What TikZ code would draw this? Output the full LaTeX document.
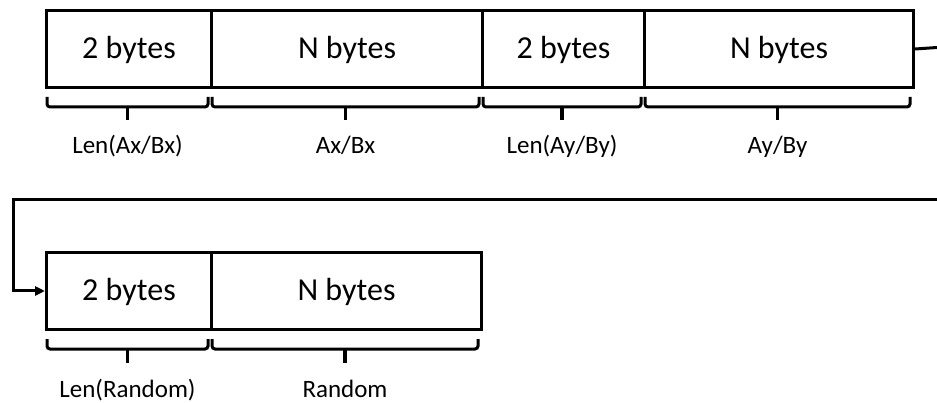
\documentclass[tikz,border=0pt]{standalone}
\usepackage{fontspec}
\setmainfont{Carlito}
\usetikzlibrary{arrows.meta}
\begin{document}
\begin{tikzpicture}[x=1pt,y=-1pt,
  field/.style={draw=black, line width=3pt, minimum height=77pt, inner sep=0pt, anchor=north west, text height=20pt, text depth=0pt, font=\fontsize{32}{36}\selectfont},
  lab/.style={inner sep=0pt, anchor=base, font=\fontsize{25}{30}\selectfont},
  brk/.style={line width=3pt, rounded corners=3pt},
  tick/.style={line width=3.4pt},
  conn/.style={line width=3pt}]
\useasboundingbox (0,0) rectangle (937,403);
% top row
\node[field, minimum width=165pt] (a1) at (45,9) {2 bytes};
\node[field, minimum width=271pt] (a2) at (210,9) {N bytes};
\node[field, minimum width=162pt] (a3) at (481,9) {2 bytes};
\node[field, minimum width=269pt] (a4) at (643,9) {N bytes};
% bottom row
\node[field, minimum width=165pt] (b1) at (45,251) {2 bytes};
\node[field, minimum width=270pt] (b2) at (210,251) {N bytes};
% braces top
\foreach \xa/\xb in {45/210, 210/481, 481/643, 643/912}{
  \draw[brk] (\xa+2,97) -- (\xa+2,107) -- (\xb-2,107) -- (\xb-2,97);
  \draw[tick] ({(\xa+\xb)/2},107) -- ({(\xa+\xb)/2},120);
}
\foreach \xa/\xb in {45/210, 210/480}{
  \draw[brk] (\xa+2,339) -- (\xa+2,349) -- (\xb-2,349) -- (\xb-2,339);
  \draw[tick] ({(\xa+\xb)/2},349) -- ({(\xa+\xb)/2},363);
}
% labels
\node[lab] (l1) at (127.5,154) {Len(Ax/Bx)};
\node[lab] (l2) at (345.5,154) {Ax/Bx};
\node[lab] (l3) at (562,154) {Len(Ay/By)};
\node[lab] (l4) at (777.5,154) {Ay/By};
\node[lab] (l5) at (127.5,397) {Len(Random)};
\node[lab] (l6) at (345,397) {Random};
% connector
\coordinate (r1) at (937,47.5);
\coordinate (r2) at (937,200);
\coordinate (c1) at (13,200);
\draw[conn] (a4.east) -- (r1);
\draw[conn, -{Triangle[length=10pt,width=9pt]}] (r2) -- (c1) |- (b1.west);
\end{tikzpicture}
\end{document}
